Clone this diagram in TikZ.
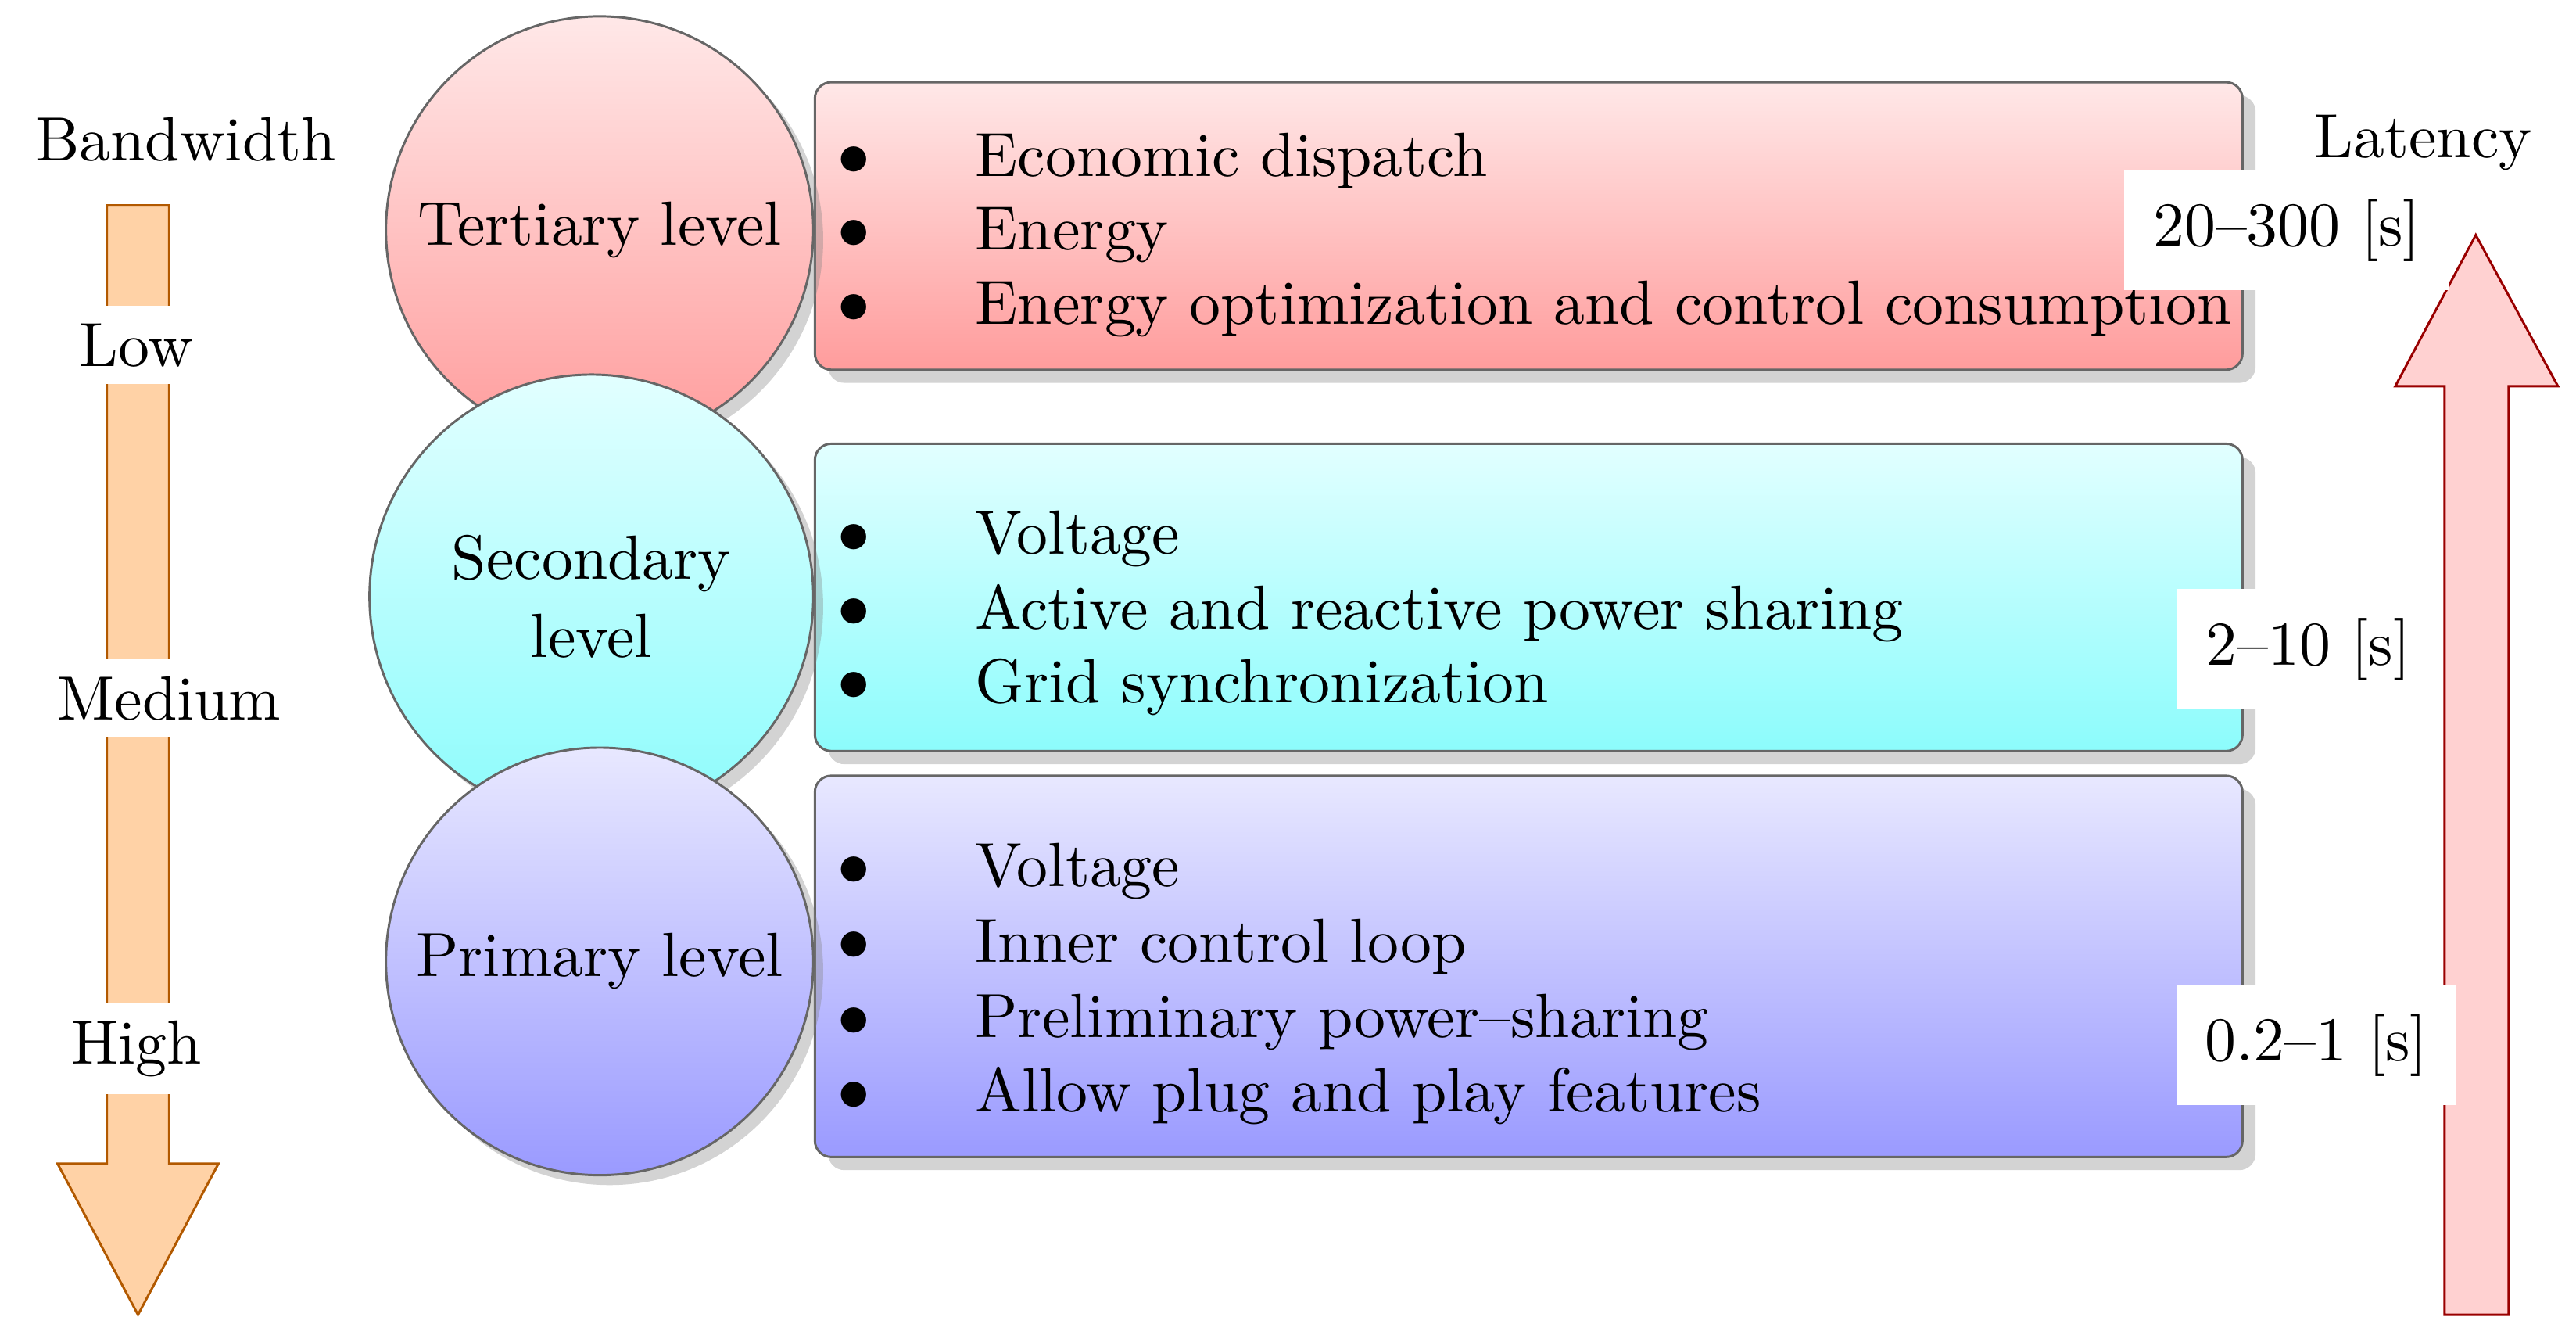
\documentclass[tikz,border=0pt]{standalone}
\usepackage{mathpazo}
\usetikzlibrary{shadows}

\definecolor{tertTop}{HTML}{FFE8E8}
\definecolor{tertBot}{HTML}{FF9C9C}
\definecolor{secTop}{HTML}{E2FFFF}
\definecolor{secBot}{HTML}{8CFCFC}
\definecolor{primTop}{HTML}{E8E8FF}
\definecolor{primBot}{HTML}{9A9AFF}
\newcommand\diagfont{\fontsize{10.8}{13.5}\selectfont}

\tikzset{
  level/.style={circle,draw=black!60,minimum size=2.6cm,inner sep=0pt,
    align=center,font=\diagfont,drop shadow={shadow xshift=0.06cm,shadow yshift=-0.06cm,opacity=.35}},
  task/.style={rounded corners=0.1cm,draw=black!60,
    drop shadow={shadow xshift=0.08cm,shadow yshift=-0.08cm,opacity=.35}},
  item/.style={anchor=west,font=\diagfont,inner sep=0pt},
  dot/.style={font=\diagfont,inner sep=0pt},
  rate/.style={font=\diagfont,fill=white,inner sep=3},
  delay/.style={fill=white,font=\diagfont,inner sep=5}
}

\begin{document}
\begin{tikzpicture}[x=0.01cm,y=-0.01cm]
\useasboundingbox (0,0) rectangle (1568,812);

% bandwidth arrow
\draw [draw=orange!70!black,fill=orange!35] (65,125) -- (103,125) -- (103,708) -- (133,708)
  -- (84,800) -- (35,708) -- (65,708) -- cycle;
\node [rate] (bandwidth) at (113,85) {Bandwidth};
\node [rate] (low)    at (83,210) {Low};
\node [rate] (medium) at (103,425) {Medium};
\node [rate] (high)   at (83,638) {High};

% latency arrow
\draw [draw=red!60!black,fill=red!18] (1488,800) -- (1488,235) -- (1458,235) -- (1507,143)
  -- (1557,235) -- (1527,235) -- (1527,800) -- cycle;
\node [rate] (latency) at (1475,87) {Latency};

% task boxes
\shade [task,top color=tertTop,bottom color=tertBot] (496,50) rectangle (1365,225);
\shade [task,top color=secTop,bottom color=secBot]   (496,270) rectangle (1365,457);
\shade [task,top color=primTop,bottom color=primBot] (496,472) rectangle (1365,704);

\foreach \y/\t in {98/Economic dispatch,
                   143/Energy/fault/congestion management,
                   188/Energy optimization and control consumption,
                   328/Voltage/frequency restoration,
                   373/Active and reactive power sharing,
                   418/Grid synchronization,
                   530/Voltage/frequency stability,
                   576/Inner control loop,
                   622/Preliminary power--sharing,
                   667/Allow plug and play features}
{
  \node [dot] at (520,\y) {$\bullet$};
  \node [item] at (593,\y) {\t};
}

% levels
\node [level,top color=tertTop,bottom color=tertBot] (tertiary)  at (365,140) {Tertiary level};
\node [level,top color=secTop,bottom color=secBot,minimum size=2.7cm] (secondary) at (360,363) {Secondary\\level};
\node [level,top color=primTop,bottom color=primBot] (primary)   at (365,585) {Primary level};

% time scales
\node [delay] (tertdelay) at (1392,140) {20--300 [s]};
\node [delay] (secdelay)  at (1405,395) {2--10 [s]};
\node [delay] (primdelay) at (1410,636) {0.2--1 [s]};
\end{tikzpicture}
\end{document}
